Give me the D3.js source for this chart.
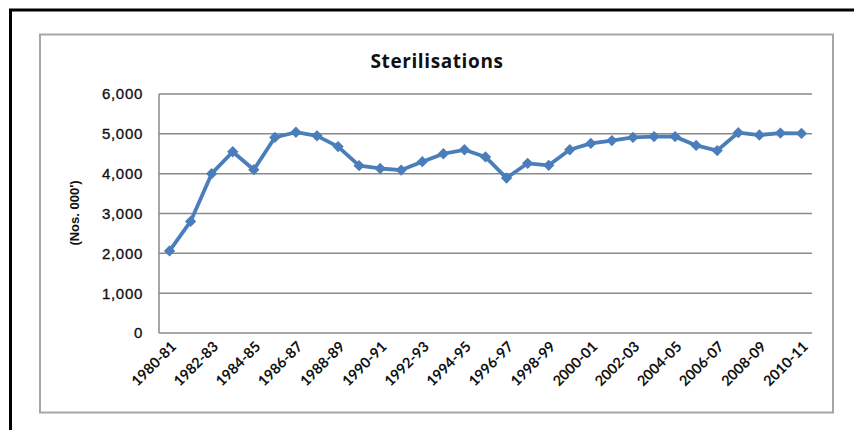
<!DOCTYPE html>
<html>
<head>
<meta charset="utf-8">
<script src="https://cdn.jsdelivr.net/npm/d3@7"></script>
<style>
  body { margin: 0; background: #fff; }
  svg { display: block; }
</style>
</head>
<body>
<script>
let width = 854
let height = 430
let plot = {left: 159, right: 812, top: 94, bottom: 333}

let years = ["1980-81", "1981-82", "1982-83", "1983-84", "1984-85", "1985-86", "1986-87", "1987-88",
             "1988-89", "1989-90", "1990-91", "1991-92", "1992-93", "1993-94", "1994-95", "1995-96",
             "1996-97", "1997-98", "1998-99", "1999-00", "2000-01", "2001-02", "2002-03", "2003-04",
             "2004-05", "2005-06", "2006-07", "2007-08", "2008-09", "2009-10", "2010-11"]
let sterilisations = [2060, 2800, 4000, 4550, 4100, 4910, 5040, 4950, 4680, 4200, 4130, 4090, 4300, 4500, 4600, 4420,
                      3890, 4260, 4210, 4600, 4760, 4830, 4910, 4930, 4930, 4710, 4580, 5030, 4970, 5020, 5010]
let yTicks = [0, 1000, 2000, 3000, 4000, 5000, 6000]
let shownYears = years.filter((d, i) => i % 2 == 0)

let data = years.map((d, i) => ({year: d, value: sterilisations[i]}))

let svg = d3.select("body").append("svg")
    .attr("width", width)
    .attr("height", height)

// outer black frame (top and left only)
svg.append("path")
    .attr("d", "M10.5,430 V10 H854")
    .attr("fill", "none")
    .attr("stroke", "#000")
    .attr("stroke-width", 3)

// chart area border
svg.append("rect")
    .attr("x", 40).attr("y", 34.5)
    .attr("width", 793).attr("height", 378)
    .attr("fill", "#fff")
    .attr("stroke", "#a6a6a6")
    .attr("stroke-width", 2)

let x = d3.scaleBand().domain(years).range([plot.left, plot.right])
let y = d3.scaleLinear().domain([0, 6000]).range([plot.bottom, plot.top])

// gridlines
svg.append("g")
    .selectAll("line")
    .data(yTicks)
    .enter().append("line")
    .attr("x1", plot.left).attr("x2", plot.right)
    .attr("y1", d => y(d)).attr("y2", d => y(d))
    .attr("stroke", "#8a8a8a")
    .attr("stroke-width", 1.5)

svg.append("line")
    .attr("x1", plot.left).attr("x2", plot.left)
    .attr("y1", plot.top).attr("y2", plot.bottom)
    .attr("stroke", "#8a8a8a")
    .attr("stroke-width", 1.5)

// y tick labels
svg.append("g")
    .selectAll("text")
    .data(yTicks)
    .enter().append("text")
    .attr("x", 143)
    .attr("y", d => y(d))
    .attr("dy", "0.36em")
    .attr("text-anchor", "end")
    .attr("font-family", "Liberation Sans, Arial, sans-serif")
    .attr("font-size", 15)
    .attr("letter-spacing", 0.7)
    .attr("fill", "#111")
    .attr("stroke", "#111")
    .attr("stroke-width", 0.35)
    .text(d => d3.format(",")(d))

// x tick labels
svg.append("g")
    .selectAll("text")
    .data(shownYears)
    .enter().append("text")
    .attr("transform", d => "translate(" + (x(d) + x.bandwidth() / 2 + 4) + "," + 344 + ") rotate(-45)")
    .attr("text-anchor", "end")
    .attr("dy", "0.35em")
    .attr("font-family", "Lato, sans-serif")
    .attr("font-weight", "bold")
    .attr("font-size", 14.5)
    .attr("fill", "#111")
    .text(d => d)

// title
svg.append("text")
    .attr("x", 437).attr("y", 68)
    .attr("text-anchor", "middle")
    .attr("font-family", "Open Sans, sans-serif")
    .attr("font-weight", "bold")
    .attr("font-size", 19)
    .attr("letter-spacing", 0.6)
    .attr("fill", "#111")
    .text("Sterilisations")

// y axis title
svg.append("text")
    .attr("transform", "translate(79,213) rotate(-90)")
    .attr("text-anchor", "middle")
    .attr("font-family", "Liberation Sans, Arial, sans-serif")
    .attr("font-weight", "bold")
    .attr("font-size", 13)
    .attr("fill", "#111")
    .text("(Nos. 000')")

// series line
let line = d3.line()
    .x(d => x(d.year) + x.bandwidth() / 2)
    .y(d => y(d.value))

svg.append("path")
    .datum(data)
    .attr("d", line)
    .attr("fill", "none")
    .attr("stroke", "#4a7ebb")
    .attr("stroke-width", 3.8)
    .attr("stroke-linejoin", "round")

// diamond markers
svg.append("g")
    .selectAll("path")
    .data(data)
    .enter().append("path")
    .attr("d", d3.symbol(d3.symbolSquare, 64))
    .attr("transform", d => "translate(" + (x(d.year) + x.bandwidth() / 2) + "," + y(d.value) + ") rotate(45)")
    .attr("fill", "#4a7ebb")
</script>
</body>
</html>
